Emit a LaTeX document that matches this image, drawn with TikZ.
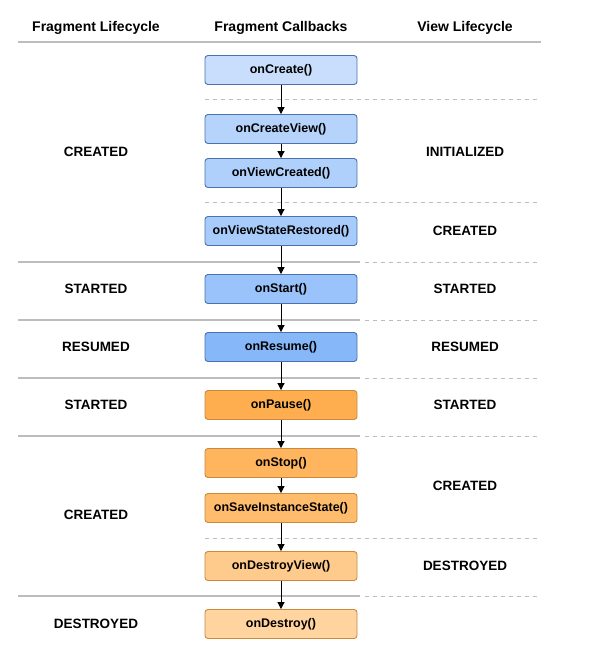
\documentclass[tikz,border=0pt]{standalone}
\usepackage{fontspec}
\setmainfont{Liberation Sans}
\usetikzlibrary{arrows.meta}
\definecolor{sepgray}{HTML}{BDBDBD}
\definecolor{blueedge}{HTML}{4A72AE}
\definecolor{orangeedge}{HTML}{C98A3D}
\definecolor{bA}{HTML}{C8DEFC}
\definecolor{bB}{HTML}{B6D4FB}
\definecolor{bC}{HTML}{AFD0FB}
\definecolor{bD}{HTML}{A7CBFB}
\definecolor{bE}{HTML}{99C3FA}
\definecolor{bF}{HTML}{85B7F9}
\definecolor{oA}{HTML}{FFAE4F}
\definecolor{oB}{HTML}{FFB55E}
\definecolor{oC}{HTML}{FFBC6C}
\definecolor{oD}{HTML}{FFCB8C}
\definecolor{oE}{HTML}{FFD49E}
\tikzset{
  cb/.style={draw, rounded corners=3pt, line width=0.9pt, minimum width=152pt,
    minimum height=29pt, inner sep=0pt, font=\bfseries\fontsize{12.5}{14}\selectfont},
  bluecb/.style={cb, draw=blueedge},
  orangecb/.style={cb, draw=orangeedge},
  lbl/.style={font=\bfseries\fontsize{13.5}{15}\selectfont, inner sep=0pt},
  hdr/.style={font=\bfseries\fontsize{14}{16}\selectfont, inner sep=0pt,
    text height=10pt, text depth=0pt},
  solidsep/.style={draw=sepgray, line width=1.2pt},
  dashsep/.style={draw=sepgray, line width=1pt, dash pattern=on 4pt off 4pt},
  flow/.style={-{Triangle[width=7pt,length=7pt]}, line width=1pt, black}
}
\begin{document}
\begin{tikzpicture}[x=1pt, y=-1pt]
\useasboundingbox (0,0) rectangle (590,658);

% column headings
\node[hdr] (h1) at (96,27) {Fragment Lifecycle};
\node[hdr] (h2) at (281,27) {Fragment Callbacks};
\node[hdr] (h3) at (465,27) {View Lifecycle};
\draw[solidsep] (18,42) -- (541,42);

% separators between states
\draw[dashsep] (205,100) -- (540,100);
\draw[dashsep] (205,202) -- (540,202);
\foreach \yy in {262,320,378,436,596} {
  \draw[solidsep] (18,\yy) -- (360,\yy);
  \draw[dashsep] (365,\yy) -- (540,\yy);
}
\draw[dashsep] (205,538) -- (540,538);

% callbacks
\node[bluecb, fill=bA] (c1) at (281,70) {onCreate()};
\node[bluecb, fill=bB] (c2) at (281,129) {onCreateView()};
\node[bluecb, fill=bC] (c3) at (281,173) {onViewCreated()};
\node[bluecb, fill=bD] (c4) at (281,231) {onViewStateRestored()};
\node[bluecb, fill=bE] (c5) at (281,289) {onStart()};
\node[bluecb, fill=bF] (c6) at (281,347) {onResume()};
\node[orangecb, fill=oA] (c7) at (281,405) {onPause()};
\node[orangecb, fill=oB] (c8) at (281,463) {onStop()};
\node[orangecb, fill=oC] (c9) at (281,508) {onSaveInstanceState()};
\node[orangecb, fill=oD] (c10) at (281,566) {onDestroyView()};
\node[orangecb, fill=oE] (c11) at (281,624) {onDestroy()};

\foreach \a/\b in {c1/c2,c2/c3,c3/c4,c4/c5,c5/c6,c6/c7,c7/c8,c8/c9,c9/c10,c10/c11}
  \draw[flow] (\a.south) -- (\b.north);

% fragment lifecycle states
\node[lbl] (f1) at (96,152) {CREATED};
\node[lbl] (f2) at (96,289) {STARTED};
\node[lbl] (f3) at (96,347) {RESUMED};
\node[lbl] (f4) at (96,405) {STARTED};
\node[lbl] (f5) at (96,515) {CREATED};
\node[lbl] (f6) at (96,624) {DESTROYED};

% view lifecycle states
\node[lbl] (v1) at (465,152) {INITIALIZED};
\node[lbl] (v2) at (465,231) {CREATED};
\node[lbl] (v3) at (465,289) {STARTED};
\node[lbl] (v4) at (465,347) {RESUMED};
\node[lbl] (v5) at (465,405) {STARTED};
\node[lbl] (v6) at (465,486) {CREATED};
\node[lbl] (v7) at (465,566) {DESTROYED};
\end{tikzpicture}
\end{document}
